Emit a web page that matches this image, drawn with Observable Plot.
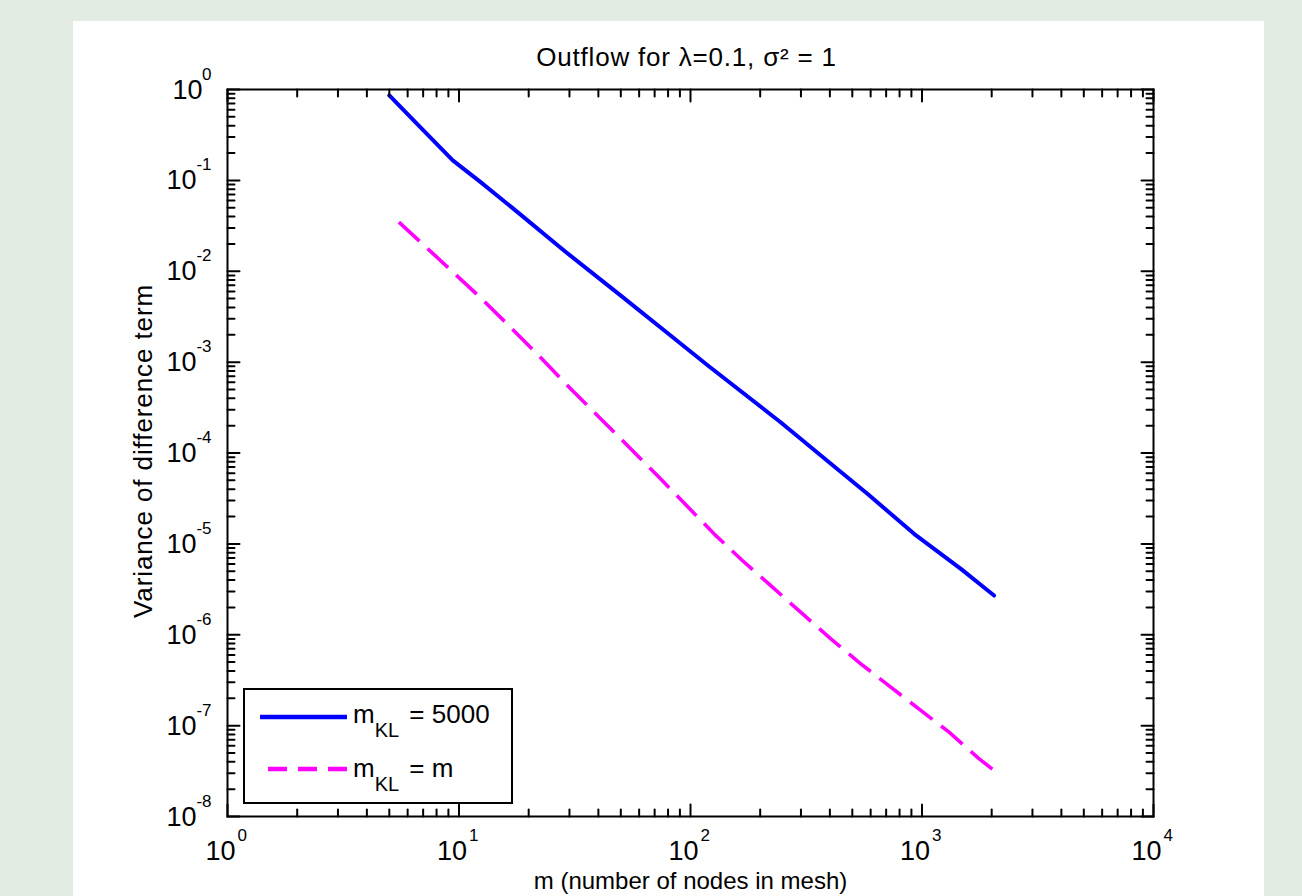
<!DOCTYPE html>
<html>
<head>
<meta charset="utf-8">
<script src="https://cdn.jsdelivr.net/npm/d3@7"></script>
<script src="https://cdn.jsdelivr.net/npm/@observablehq/plot@0.6"></script>
<style>
  html, body { margin: 0; padding: 0; }
  body { background: #e2ece2; width: 1302px; height: 896px; overflow: hidden; position: relative;
         font-family: "Liberation Sans", Arial, sans-serif; }
  #panel { position: absolute; left: 73px; top: 21px; width: 1191px; height: 875px; background: #fff; }
  #legend { position: absolute; left: 243px; top: 688px; font-family: "Liberation Sans", Arial, sans-serif; }
  #legend text { white-space: pre; }
</style>
</head>
<body>
<div id="panel"></div>
<svg id="legend" width="270" height="116"></svg>
<script>
// ---- data ----
const blueM = [5, 6.8, 9.4, 12.4, 17.9, 28.4, 50, 82, 120, 245, 404, 581, 924, 1472, 2048];
const blueV = [0.86, 0.385, 0.166, 0.0955, 0.0447, 0.0169, 0.0054, 0.00196, 9.0e-4, 2.18e-4, 7.6e-5, 3.56e-5, 1.29e-5, 5.3e-6, 2.7e-6];

const magentaM = [5.5, 9, 12.4, 16.4, 22.1, 29.4, 39.6, 53.4, 71.9, 126.4, 167.5, 226, 299, 404, 544, 733, 988, 1309, 1766, 2048];
const magentaV = [0.0347, 0.0109, 0.0051, 0.00253, 0.00118, 5.53e-4, 2.59e-4, 1.21e-4, 5.65e-5, 1.29e-5, 6.56e-6, 3.34e-6, 1.77e-6, 9.0e-7, 4.79e-7, 2.65e-7, 1.47e-7, 8.47e-8, 4.31e-8, 3.21e-8];

const xTickExponents = [0, 1, 2, 3, 4];
const yTickExponents = [0, -1, -2, -3, -4, -5, -6, -7, -8];
const tickBase = "10";

const titleText = "Outflow for λ=0.1, σ² = 1";
const xLabel = "m (number of nodes in mesh)";
const yLabel = "Variance of difference term";
const seriesNames = ["5000", "m"];
const seriesColors = ["#0000ff", "#ff00ff"];

// ---- derived tables ----
const blue = blueM.map((m, i) => ({m, v: blueV[i]}));
const magenta = magentaM.map((m, i) => ({m, v: magentaV[i]}));

const xMajor = xTickExponents.map(e => 10 ** e);
const yMajor = yTickExponents.map(e => 10 ** e);
const xMinor = [];
for (let e = 0; e < 4; e++) for (let k = 2; k <= 9; k++) xMinor.push(k * 10 ** e);
const yMinor = [];
for (let e = -8; e < 0; e++) for (let k = 2; k <= 9; k++) yMinor.push(k * 10 ** e);

const tickShape = {draw(ctx, l) { ctx.moveTo(0, 0); ctx.lineTo(0, -l); }};
function edgeTicks(data, ch, anchor, rotate, len) {
  return Plot.vector(data, {[ch]: d => d, frameAnchor: anchor, length: len, rotate, anchor: "start",
    shape: tickShape, stroke: "black", strokeWidth: 2});
}

const y0 = yTickExponents.filter(e => e === 0);
const yNeg = yTickExponents.filter(e => e < 0);

const chart = Plot.plot({
  width: 1191,
  height: 875,
  marginLeft: 154,
  marginRight: 111,
  marginTop: 68,
  marginBottom: 80,
  style: {background: "white", color: "black", fontFamily: "'Liberation Sans', Arial, sans-serif", overflow: "visible"},
  x: {type: "log", domain: [1, 1e4], axis: null},
  y: {type: "log", domain: [1e-8, 1], axis: null},
  marks: [
    Plot.line(blue, {x: "m", y: "v", stroke: seriesColors[0], strokeWidth: 4}),
    Plot.line(magenta, {x: "m", y: "v", stroke: seriesColors[1], strokeWidth: 3.6, strokeDasharray: "28,11", strokeLinecap: "butt"}),
    // ticks (inward, on all four sides)
    edgeTicks(xMinor, "x", "bottom", 0, 7),
    edgeTicks(xMajor, "x", "bottom", 0, 12),
    edgeTicks(xMinor, "x", "top", 180, 7),
    edgeTicks(xMajor, "x", "top", 180, 12),
    edgeTicks(yMinor, "y", "left", 90, 7),
    edgeTicks(yMajor, "y", "left", 90, 12),
    edgeTicks(yMinor, "y", "right", 270, 7),
    edgeTicks(yMajor, "y", "right", 270, 12),
    // x tick labels
    Plot.text(xTickExponents, {x: e => 10 ** e, frameAnchor: "bottom", text: () => tickBase, textAnchor: "end",
      dx: 8, dy: 43, lineAnchor: "bottom", fontSize: 27}),
    Plot.text(xTickExponents, {x: e => 10 ** e, frameAnchor: "bottom", text: e => String(e), textAnchor: "start",
      dx: 10, dy: 24, lineAnchor: "bottom", fontSize: 17}),
    // y tick labels
    Plot.text(y0, {y: e => 10 ** e, frameAnchor: "left", text: () => tickBase, textAnchor: "end",
      dx: -25, dy: 9, lineAnchor: "bottom", fontSize: 27}),
    Plot.text(y0, {y: e => 10 ** e, frameAnchor: "left", text: e => String(e), textAnchor: "end",
      dx: -16, dy: -10, lineAnchor: "bottom", fontSize: 17}),
    Plot.text(yNeg, {y: e => 10 ** e, frameAnchor: "left", text: () => tickBase, textAnchor: "end",
      dx: -31, dy: 9, lineAnchor: "bottom", fontSize: 27}),
    Plot.text(yNeg, {y: e => 10 ** e, frameAnchor: "left", text: e => String(e), textAnchor: "end",
      dx: -16, dy: -10, lineAnchor: "bottom", fontSize: 17}),
    // title and axis labels
    Plot.text([titleText], {frameAnchor: "top", dx: -4, dy: -24, lineAnchor: "bottom", fontSize: 26}),
    Plot.text([xLabel], {frameAnchor: "bottom", dy: 72, lineAnchor: "bottom", fontSize: 24}),
    Plot.text([yLabel], {frameAnchor: "left", textAnchor: "middle", rotate: -90, dx: -84, dy: -2, fontSize: 26}),
    Plot.frame({stroke: "black", strokeWidth: 2})
  ]
});
document.getElementById("panel").appendChild(chart);

// slightly wider letter spacing, as in the reference
d3.select(chart).selectAll("text").filter(function () { return this.textContent === titleText; })
  .attr("letter-spacing", "0.8px");
d3.select(chart).selectAll("text").filter(function () { return this.textContent === yLabel; })
  .attr("letter-spacing", "0.9px");

// ---- legend ----
const lg = d3.select("#legend");
lg.append("rect").attr("x", 1).attr("y", 1).attr("width", 268).attr("height", 114)
  .attr("fill", "white").attr("stroke", "black").attr("stroke-width", 2);
const rows = [
  {y: 29, ty: 35, dash: null},
  {y: 81, ty: 89, dash: "19,11"}
];
rows.forEach((r, i) => {
  lg.append("line").attr("x1", i === 0 ? 17 : 25).attr("x2", 104).attr("y1", r.y).attr("y2", r.y)
    .attr("stroke", seriesColors[i]).attr("stroke-width", 4.5)
    .attr("stroke-dasharray", r.dash);
  const t = lg.append("text").attr("x", 110).attr("y", r.ty).attr("font-size", 26).attr("fill", "black");
  t.append("tspan").text("m");
  t.append("tspan").attr("font-size", 20).attr("dy", 14).text("KL");
  t.append("tspan").attr("dy", -14).attr("dx", 3).text(" = " + seriesNames[i]);
});
</script>
</body>
</html>
